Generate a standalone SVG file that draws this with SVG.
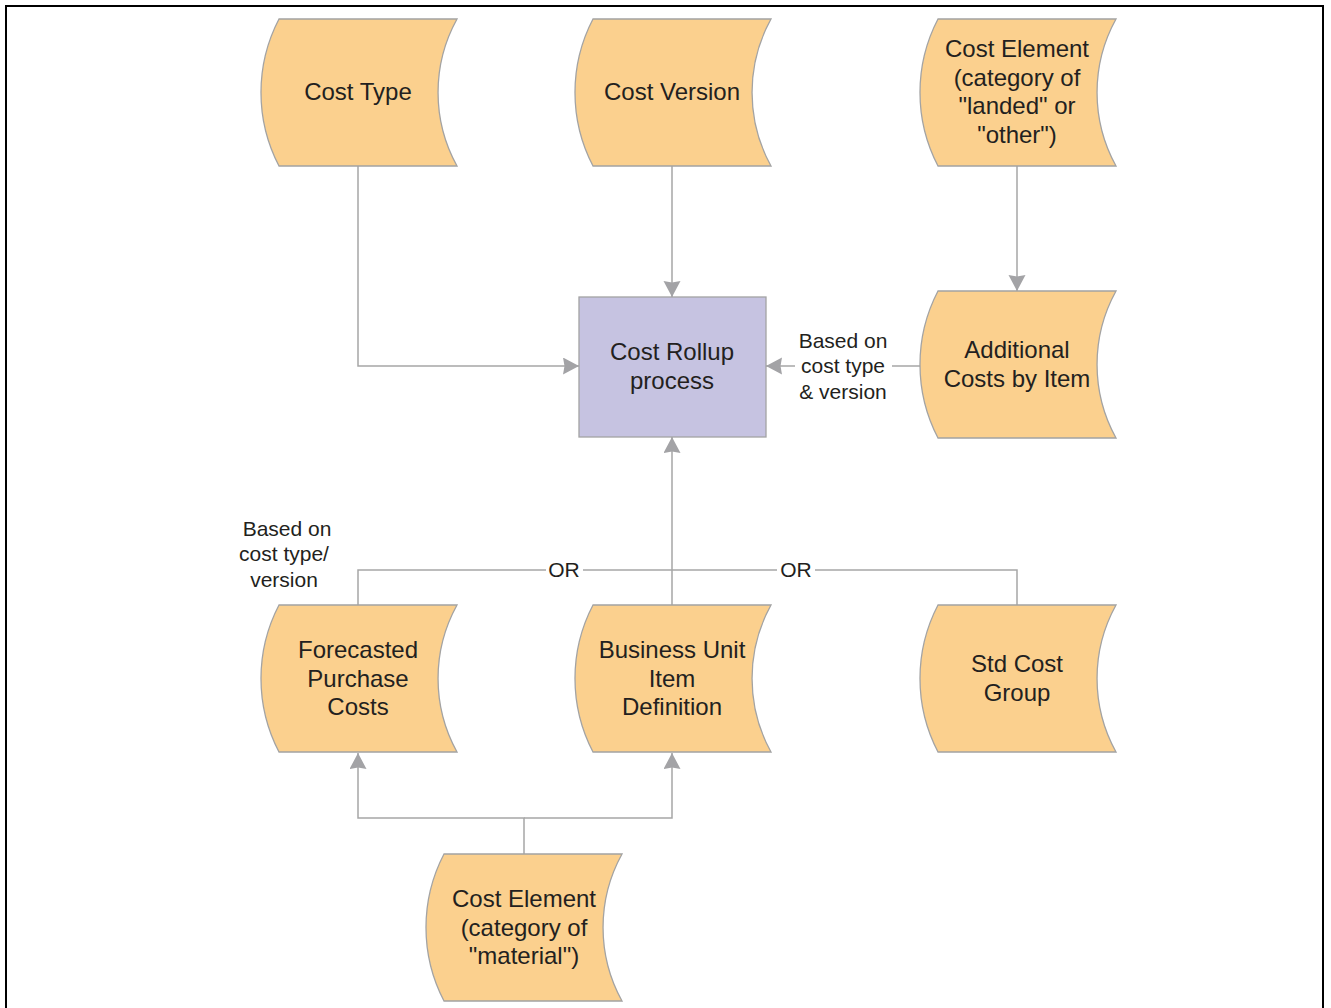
<svg xmlns="http://www.w3.org/2000/svg" width="1331" height="1008" viewBox="0 0 1331 1008">
  <style>
    .data { fill: #fbd08e; stroke: #a3a3a3; stroke-width: 1.3; }
    .proc { fill: #c6c3e1; stroke: #a3a3a3; stroke-width: 1.3; }
    .t { font-family: "Liberation Sans", Arial, sans-serif; font-size: 24px; fill: #231f20; text-anchor: middle; }
    .lbl { font-family: "Liberation Sans", Arial, sans-serif; font-size: 21px; fill: #231f20; text-anchor: middle; }
    .conn { fill: none; stroke: #a6a6a6; stroke-width: 1.5; }
    .arr { marker-end: url(#arrow); }
  </style>
  <defs>
    <marker id="arrow" markerUnits="userSpaceOnUse" markerWidth="18" markerHeight="18" refX="16" refY="8.5" orient="auto">
      <path d="M0,0 L16,8.5 L0,17 L1.5,8.5 Z" fill="#a3a3a6"/>
    </marker>
    <!-- stored-data shape: straight top/bottom, convex left, concave right -->
    <path id="stored" d="M0,0 H178 A152,152 0 0 0 178,147 H0 A159,159 0 0 1 0,0 Z"/>
  </defs>

  <rect x="6" y="6" width="1317" height="1020" fill="#ffffff" stroke="#000000" stroke-width="2"/>

  <g id="connectors">
    <path class="conn arr" d="M358,166 V366 H579"/>
    <path class="conn arr" d="M672,166 V297"/>
    <path class="conn arr" d="M1017,166 V291"/>
    <path class="conn arr" d="M920,366 H892 M795,366 H766"/>
    <path class="conn arr" d="M672,605 V437"/>
    <path class="conn" d="M358,605 V570 H546 M583,570 H672"/>
    <path class="conn" d="M1017,605 V570 H815 M777,570 H672"/>
    <path class="conn arr" d="M524,854 V818 H358 V753"/>
    <path class="conn arr" d="M524,818 H672 V753"/>
    <text class="lbl" x="843" y="348">Based on</text>
    <text class="lbl" x="843" y="373">cost type</text>
    <text class="lbl" x="843" y="399">&amp; version</text>
    <text class="lbl" x="287" y="536">Based on</text>
    <text class="lbl" x="284" y="561">cost type/</text>
    <text class="lbl" x="284" y="587">version</text>
    <text class="lbl" x="564" y="577">OR</text>
    <text class="lbl" x="796" y="577">OR</text>
  </g>

  <g id="cost-type">
    <use href="#stored" class="data" x="279" y="19"/>
    <text class="t" x="358" y="100">Cost Type</text>
  </g>
  <g id="cost-version">
    <use href="#stored" class="data" x="593" y="19"/>
    <text class="t" x="672" y="100">Cost Version</text>
  </g>
  <g id="cost-element-landed">
    <use href="#stored" class="data" x="938" y="19"/>
    <text class="t" x="1017" y="57">Cost Element</text>
    <text class="t" x="1017" y="86">(category of</text>
    <text class="t" x="1017" y="114">"landed" or</text>
    <text class="t" x="1017" y="143">"other")</text>
  </g>
  <g id="cost-rollup">
    <rect class="proc" x="579" y="297" width="187" height="140"/>
    <text class="t" x="672" y="360">Cost Rollup</text>
    <text class="t" x="672" y="389">process</text>
  </g>
  <g id="additional-costs">
    <use href="#stored" class="data" x="938" y="291"/>
    <text class="t" x="1017" y="358">Additional</text>
    <text class="t" x="1017" y="387">Costs by Item</text>
  </g>
  <g id="forecasted-costs">
    <use href="#stored" class="data" x="279" y="605"/>
    <text class="t" x="358" y="658">Forecasted</text>
    <text class="t" x="358" y="687">Purchase</text>
    <text class="t" x="358" y="715">Costs</text>
  </g>
  <g id="bu-item-definition">
    <use href="#stored" class="data" x="593" y="605"/>
    <text class="t" x="672" y="658">Business Unit</text>
    <text class="t" x="672" y="687">Item</text>
    <text class="t" x="672" y="715">Definition</text>
  </g>
  <g id="std-cost-group">
    <use href="#stored" class="data" x="938" y="605"/>
    <text class="t" x="1017" y="672">Std Cost</text>
    <text class="t" x="1017" y="701">Group</text>
  </g>
  <g id="cost-element-material">
    <use href="#stored" class="data" x="444" y="854"/>
    <text class="t" x="524" y="907">Cost Element</text>
    <text class="t" x="524" y="936">(category of</text>
    <text class="t" x="524" y="964">"material")</text>
  </g>
</svg>
